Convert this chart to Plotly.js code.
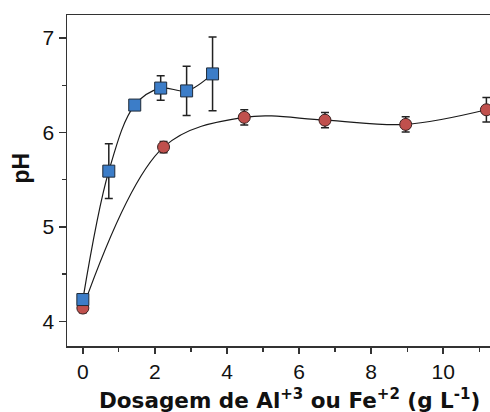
<!DOCTYPE html>
<html>
<head>
<meta charset="utf-8">
<script src="https://cdn.plot.ly/plotly-3.0.1.min.js"></script>
<style>html,body{margin:0;padding:0;background:#fff}#chart{width:490px;height:412px}</style>
</head>
<body>
<div id="chart"></div>
<script>
// Blue squares (Al+3)
var alDose = [0, 0.72, 1.44, 2.16, 2.88, 3.6];
var alPH   = [4.23, 5.59, 6.29, 6.47, 6.44, 6.62];
var alErr  = [0.06, 0.29, 0.04, 0.13, 0.26, 0.39];
// Red circles (Fe+2)
var feDose = [0, 2.24, 4.48, 6.72, 8.96, 11.2];
var fePH   = [4.14, 5.845, 6.16, 6.13, 6.085, 6.24];
var feErr  = [0.05, 0.06, 0.08, 0.08, 0.08, 0.13];

var xTicks = [0, 2, 4, 6, 8, 10];
var yTicks = [4, 5, 6, 7];
var xTitle = '<b>Dosagem de Al<sup>+3</sup> ou Fe<sup>+2</sup> (g L<sup>-1</sup>)</b>';
var yTitle = '<b>pH</b>';

var lineStyle = {color: '#1a1a1a', width: 1.2, shape: 'spline', smoothing: 1.0};
var errStyle = {type: 'data', visible: true, color: '#222', thickness: 1.5, width: 4};

var traces = [
  {x: feDose, y: fePH, mode: 'lines', line: lineStyle, showlegend: false, hoverinfo: 'skip'},
  {x: alDose, y: alPH, mode: 'lines', line: lineStyle, showlegend: false, hoverinfo: 'skip'},
  {x: feDose, y: fePH, mode: 'markers', error_y: Object.assign({array: feErr}, errStyle),
   marker: {symbol: 'circle', size: 12, color: '#C0504D', line: {color: '#3a2020', width: 1}},
   showlegend: false, cliponaxis: false},
  {x: alDose, y: alPH, mode: 'markers', error_y: Object.assign({array: alErr}, errStyle),
   marker: {symbol: 'square', size: 12, color: '#3C7DC8', line: {color: '#1f2a38', width: 1}},
   showlegend: false, cliponaxis: false}
];

var layout = {
  width: 490, height: 412,
  margin: {l: 67, r: 0, t: 15, b: 66},
  paper_bgcolor: '#fff', plot_bgcolor: '#fff',
  font: {family: '"Liberation Sans", Arial, sans-serif', color: '#111'},
  xaxis: {
    range: [-0.44, 11.3], showgrid: false, zeroline: false,
    showline: true, linecolor: '#333', linewidth: 1.5, mirror: true,
    ticks: 'outside', ticklen: 6, tickwidth: 1.5, tickcolor: '#333',
    tickvals: xTicks, ticktext: xTicks.map(String),
    tickfont: {size: 21, color: '#111'},
    minor: {dtick: 1, tick0: 1, ticks: 'outside', ticklen: 4, tickwidth: 1.2, tickcolor: '#333'}
  },
  yaxis: {
    range: [3.738, 7.244], showgrid: false, zeroline: false,
    showline: true, linecolor: '#333', linewidth: 1.5,
    ticks: 'outside', ticklen: 7, tickwidth: 1.5, tickcolor: '#333',
    tickvals: yTicks, ticktext: yTicks.map(String),
    tickfont: {size: 21, color: '#111'},
    minor: {dtick: 1, tick0: 4.5, ticks: 'outside', ticklen: 4, tickwidth: 1.2, tickcolor: '#333'}
  },
  annotations: [
    {text: xTitle, xref: 'paper', yref: 'paper', x: 0.525, y: -0.16,
     xanchor: 'center', yanchor: 'middle', showarrow: false,
     font: {family: '"DejaVu Sans", sans-serif', size: 21.5, color: '#111'}},
    {text: yTitle, xref: 'paper', yref: 'paper', x: -0.109, y: 0.539, textangle: -90,
     xanchor: 'center', yanchor: 'middle', showarrow: false,
     font: {family: '"Liberation Sans", Arial, sans-serif', size: 23, color: '#111'}}
  ]
};

Plotly.newPlot('chart', traces, layout, {staticPlot: true, displayModeBar: false});
</script>
</body>
</html>
